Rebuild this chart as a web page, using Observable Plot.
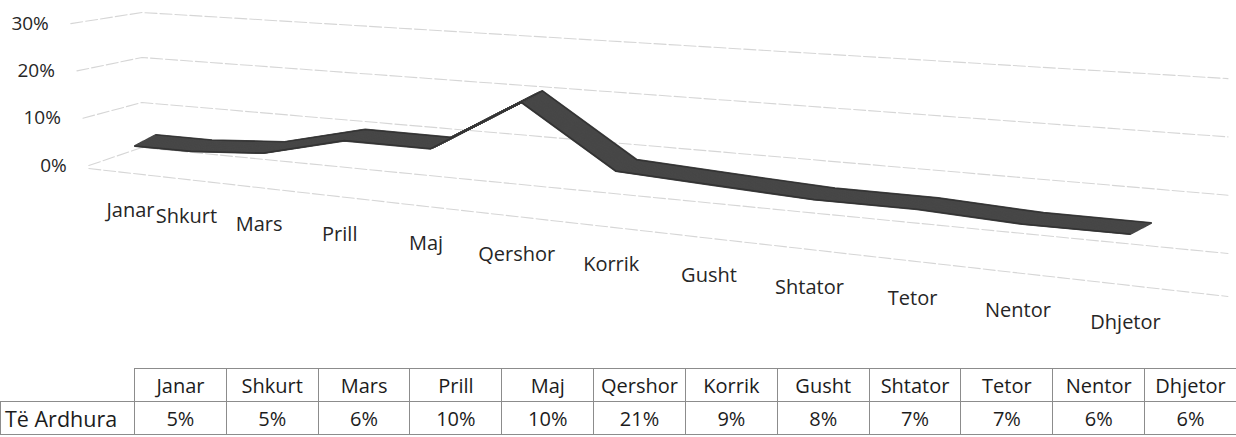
<!DOCTYPE html>
<html><head><meta charset="utf-8">
<script src="https://cdn.jsdelivr.net/npm/d3@7"></script>
<script src="https://cdn.jsdelivr.net/npm/@observablehq/plot@0.6"></script>
<style>
body{margin:0;background:#fff;font-family:"Open Sans",sans-serif;width:1236px;overflow:hidden;}
#chart{width:1236px;height:350px;}
table{border-collapse:collapse;margin-top:18px;table-layout:fixed;width:1237px;font-family:"Open Sans",sans-serif;font-size:20px;color:#1c1c1c;}
td{border:1px solid #8c8c8c;height:32px;padding:0;text-align:center;white-space:nowrap;overflow:hidden;}
td.blank{border-top:none;border-left:none;}
td.name{text-align:left;padding-left:4px;font-size:21.5px;}
</style></head><body>
<div id="chart"></div>
<div id="table"></div>
<script>
// ---- data ----
const months = ["Janar","Shkurt","Mars","Prill","Maj","Qershor","Korrik","Gusht","Shtator","Tetor","Nentor","Dhjetor"];
const values = [5,5,6,10,10,21,9,8,7,7,6,6];
const yTicks = [0,10,20,30];
const seriesName = "Të Ardhura";

// ---- 3D-like projection parameters (perspective look of the original) ----
const EXP = 1.2;                      // x perspective (pow scale exponent)
const sOf = i => Math.sign(i) * Math.pow(Math.abs(i) / 11, EXP);
const SHEAR = 18.6;                   // downward slope of the plane, in value units
const frontI = t => -1.01 - 0.0087 * t;

const series = months.map((m, i) => ({i, month: m, v: values[i], Y: values[i] - SHEAR * sOf(i)}));

const grid = [];
for (const t of yTicks) {
  grid.push({t, i: frontI(t), Y: 0.946 * t});
  grid.push({t, i: -0.1, Y: 3.6 + 0.9 * t});
  grid.push({t, i: 11.8, Y: -17.6 + 1.166 * t});
}
const floorEdge = [{i: -1.01, Y: -0.6}, {i: 11.8, Y: -26.2}];

// ribbon drawn as a sweep of the line along the depth direction
const N = 18, DX = 21, DY = -11;
const ribbon = [];
for (let k = 0; k <= N; k++) {
  ribbon.push(Plot.line(series, {x: "i", y: "Y", stroke: "#474747", strokeWidth: 2.2,
    dx: -DX / 2 + DX * k / N, dy: -DY / 2 + DY * k / N}));
}
ribbon.push(Plot.line(series, {x: "i", y: "Y", stroke: "#333", strokeWidth: 1.4, dx: -DX / 2, dy: -DY / 2}));
ribbon.push(Plot.line(series, {x: "i", y: "Y", stroke: "#333", strokeWidth: 1.2, dx: DX / 2, dy: DY / 2}));

const chart = Plot.plot({
  width: 1236, height: 350,
  marginLeft: 145, marginRight: 96, marginTop: 0, marginBottom: 0,
  style: {fontFamily: "'Open Sans', sans-serif", background: "#fff"},
  x: {type: "pow", exponent: EXP, domain: [0, 11], axis: null},
  y: {domain: [-37, 33], axis: null},
  marks: [
    Plot.line(grid, {x: "i", y: "Y", z: "t", stroke: "#d6d6d6", strokeWidth: 1.1, strokeDasharray: "12,3"}),
    Plot.line(floorEdge, {x: "i", y: "Y", stroke: "#d6d6d6", strokeWidth: 1.1, strokeDasharray: "12,3"}),
    ...ribbon,
    Plot.text(yTicks, {x: t => frontI(t), y: t => 0.946 * t, text: t => t + "%", textAnchor: "end", dx: -22, fontSize: 19, fill: "#262626"}),
    Plot.text(series, {x: "i", y: d => -9.0 - 22.5 * sOf(d.i), text: "month", dx: -15, fontSize: 20, fill: "#262626"})
  ]
});
document.getElementById("chart").appendChild(chart);

// ---- data table ----
const table = document.createElement("table");
const cg = document.createElement("colgroup");
const c0 = document.createElement("col"); c0.style.width = "134px"; cg.appendChild(c0);
months.forEach(() => cg.appendChild(document.createElement("col")));
table.appendChild(cg);
const tr1 = document.createElement("tr");
const blank = document.createElement("td"); blank.className = "blank"; tr1.appendChild(blank);
months.forEach(m => { const td = document.createElement("td"); td.textContent = m; tr1.appendChild(td); });
const tr2 = document.createElement("tr");
const nm = document.createElement("td"); nm.className = "name"; nm.textContent = seriesName; tr2.appendChild(nm);
values.forEach(v => { const td = document.createElement("td"); td.textContent = v + "%"; tr2.appendChild(td); });
table.appendChild(tr1); table.appendChild(tr2);
document.getElementById("table").appendChild(table);
</script>
</body></html>
